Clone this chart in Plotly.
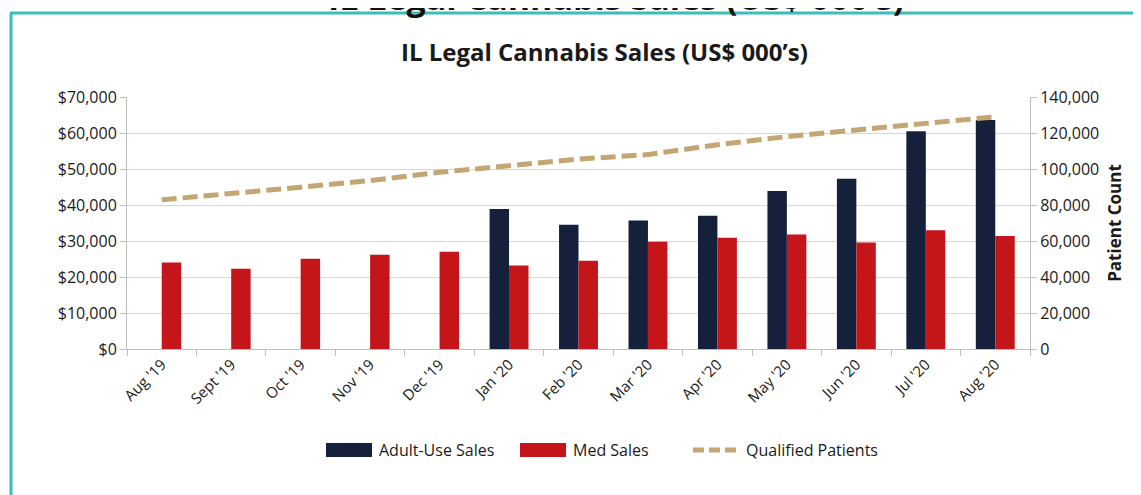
import plotly.graph_objects as go

months = ["Aug '19", "Sept '19", "Oct '19", "Nov '19", "Dec '19", "Jan '20", "Feb '20",
          "Mar '20", "Apr '20", "May '20", "Jun '20", "Jul '20", "Aug '20"]
adult_use_sales = [None, None, None, None, None, 38900, 34500, 35700, 37000, 43900, 47300, 60500, 63600]
med_sales = [24000, 22300, 25100, 26200, 27000, 23200, 24500, 29800, 30900, 31800, 29600, 33000, 31400]
qualified_patients = [82900, 86200, 89900, 93600, 98200, 101800, 105500, 108000, 113500, 118000, 121500, 125000, 129000]
series_names = ["Adult-Use Sales", "Med Sales", "Qualified Patients"]

W, H = 1141, 495
OFF = 8  # page body margin
L, R, T, B = 119, 119, 89, 154
pw, ph = W - L - R, H - T - B

def px_x(sx):
    return (sx - OFF - L) / pw

def px_y(sy):
    return (H - B - (sy - OFF)) / ph

FONT = "Open Sans"
TXT = "#1a1a1a"
NAVY = "#15203b"
RED = "#c3151a"
TAN = "#c4a673"
AXC = "#bfbfbf"

fig = go.Figure()
fig.add_trace(go.Bar(x=months, y=adult_use_sales, name=series_names[0],
                     marker=dict(color=NAVY, line=dict(width=0))))
fig.add_trace(go.Bar(x=months, y=med_sales, name=series_names[1],
                     marker=dict(color=RED, line=dict(width=0))))
fig.add_trace(go.Scatter(x=months, y=qualified_patients, name=series_names[2], yaxis="y2",
                         mode="lines", line=dict(color=TAN, width=5, dash="15px,6px")))

fig.update_layout(
    width=W, height=H,
    margin=dict(l=L, r=R, t=T, b=B, pad=0),
    paper_bgcolor="white", plot_bgcolor="white",
    font=dict(family=FONT, size=13, color=TXT),
    barmode="group", bargap=0.44, bargroupgap=0,
    showlegend=False,
    xaxis=dict(type="category", tickangle=-45, tickson="boundaries", ticks="outside",
               ticklen=6, tickcolor=AXC, showline=True, linecolor=AXC, linewidth=1,
               showgrid=False, tickfont=dict(family=FONT, size=15, color=TXT)),
    yaxis=dict(range=[0, 70000], dtick=10000, tickprefix="$", tickformat=",",
               showgrid=True, gridcolor="#d6d6d6", gridwidth=1.2, zeroline=False,
               showline=True, linecolor=AXC, ticks="outside", ticklen=6,
               tickcolor=AXC, tickfont=dict(family=FONT, size=16, color=TXT)),
    yaxis2=dict(range=[0, 140000], dtick=20000, tickformat=",", overlaying="y", side="right",
                showgrid=False, zeroline=False, showline=True, linecolor=AXC,
                ticks="outside", ticklen=6, tickcolor=AXC,
                tickfont=dict(family=FONT, size=16, color=TXT),
                title=dict(text="<b>Patient Count</b>", font=dict(family=FONT, size=17, color=TXT),
                           standoff=10)),
    title=dict(text="<b>IL Legal Cannabis Sales (US$ 000’s)</b>", x=px_x(599), xanchor="center",
               y=1 - (53 - OFF) / H, yanchor="middle", font=dict(family=FONT, size=24, color=TXT)),
)

# clipped heading from the page above the chart card
fig.add_annotation(text="<b>IL Legal Cannabis Sales (US$ 000’s)</b>", xref="paper", yref="paper",
                   x=px_x(616), y=px_y(-3), xanchor="center", yanchor="middle", showarrow=False,
                   font=dict(family=FONT, size=34, color="#111111"))

# teal card border (left and top edges)
teal = "#3dbcbc"
fig.add_shape(type="line", xref="paper", yref="paper", x0=px_x(11), x1=px_x(11),
              y0=px_y(13), y1=px_y(510), line=dict(color=teal, width=3))
fig.add_shape(type="line", xref="paper", yref="paper", x0=px_x(10), x1=px_x(1160),
              y0=px_y(13), y1=px_y(13), line=dict(color=teal, width=3))

# legend drawn Excel-style (wide swatches)
ly = 450
leg = [(326, 372, 377, series_names[0], NAVY, "rect"),
       (520, 566, 571, series_names[1], RED, "rect"),
       (693, 740, 744, series_names[2], TAN, "dash")]
for x0, x1, tx, name, col, kind in leg:
    if kind == "rect":
        fig.add_shape(type="rect", xref="paper", yref="paper", x0=px_x(x0), x1=px_x(x1),
                      y0=px_y(ly + 7), y1=px_y(ly - 7), fillcolor=col, line=dict(width=0))
    else:
        fig.add_shape(type="line", xref="paper", yref="paper", x0=px_x(x0), x1=px_x(x1),
                      y0=px_y(ly), y1=px_y(ly), line=dict(color=col, width=5, dash="11px,5px"))
    fig.add_annotation(text=name, xref="paper", yref="paper", x=px_x(tx), y=px_y(ly),
                       xanchor="left", yanchor="middle", showarrow=False,
                       font=dict(family=FONT, size=16, color=TXT))

fig.write_html("out.html")
